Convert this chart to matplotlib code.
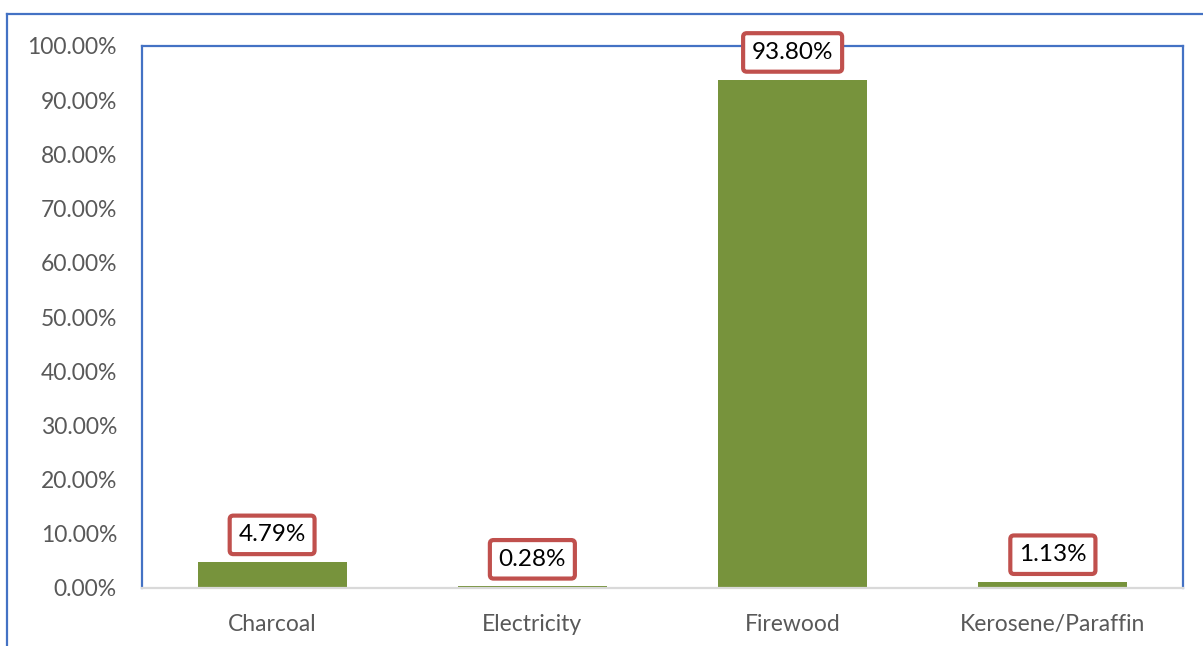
import matplotlib.pyplot as plt
from matplotlib.lines import Line2D

categories = ['Charcoal', 'Electricity', 'Firewood', 'Kerosene/Paraffin']
shares = [4.79, 0.28, 93.80, 1.13]
y_ticks = [0, 10, 20, 30, 40, 50, 60, 70, 80, 90, 100]

blue = '#4472C4'
green = '#77933C'
red = '#C0504D'
grey_text = '#595959'

plt.rcParams['font.family'] = ['Lato', 'DejaVu Sans']

fig = plt.figure(figsize=(12.03, 6.46), dpi=100)
ax = fig.add_axes([142 / 1203, 1 - 588 / 646, 1041 / 1203, 542 / 646])

x = list(range(len(categories)))
ax.bar(x, shares, width=0.573, color=green, zorder=2)

ax.set_xlim(-0.5, len(categories) - 0.5)
ax.set_ylim(0, 100)
ax.set_yticks(y_ticks)
ax.set_yticklabels(['{:.2f}%'.format(t) for t in y_ticks])
ax.set_xticks(x)
ax.set_xticklabels(categories)
ax.tick_params(axis='y', length=0, pad=18, labelsize=16.5, labelcolor=grey_text)
ax.tick_params(axis='x', length=0, pad=19, labelsize=16.5, labelcolor=grey_text)

for side in ['left', 'top', 'right']:
    ax.spines[side].set_color(blue)
    ax.spines[side].set_linewidth(1.6)
ax.spines['bottom'].set_color('#D9D9D9')
ax.spines['bottom'].set_linewidth(1.6)
ax.spines['bottom'].set_zorder(3)

# value labels in red rounded boxes
for xi, v in zip(x, shares):
    ax.annotate('{:.2f}%'.format(v), xy=(xi, v), xytext=(0, 12),
                textcoords='offset points', ha='center', va='bottom',
                fontsize=17.5, color='black', annotation_clip=False, zorder=5,
                bbox=dict(boxstyle='round,pad=0.36,rounding_size=0.15',
                          fc='white', ec=red, lw=3))

# outer chart frame
fig.add_artist(Line2D([6.5 / 1203, 6.5 / 1203], [0, 1 - 13.5 / 646],
                      transform=fig.transFigure, color=blue, lw=1.6))
fig.add_artist(Line2D([6.5 / 1203, 1], [1 - 13.5 / 646, 1 - 13.5 / 646],
                      transform=fig.transFigure, color=blue, lw=1.6))

fig.savefig('out.png', dpi=100)
